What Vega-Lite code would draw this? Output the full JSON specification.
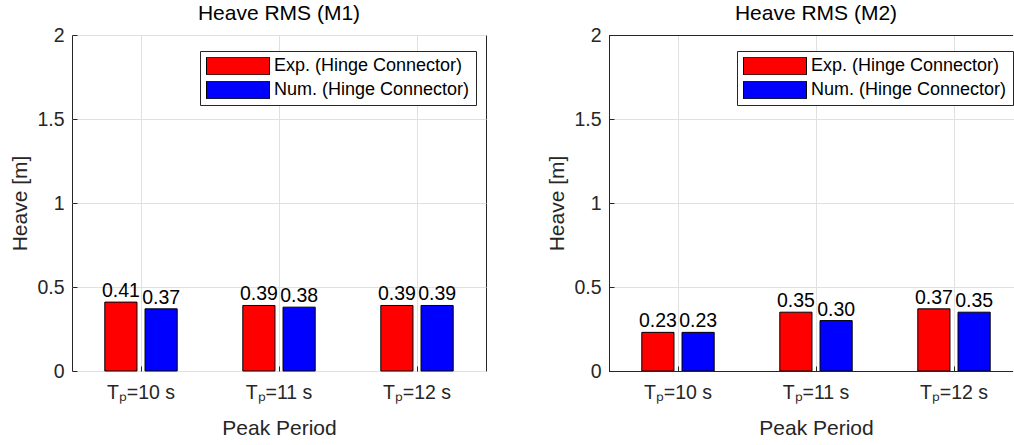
{
  "$schema": "https://vega.github.io/schema/vega-lite/v6.json",
  "background": "white",
  "padding": {"left": 9, "top": 2, "right": 1, "bottom": 5},
  "datasets": {
    "m1": [
      {"period": "Tₚ=10 s", "type": "Exp. (Hinge Connector)", "value": 0.41},
      {"period": "Tₚ=10 s", "type": "Num. (Hinge Connector)", "value": 0.37},
      {"period": "Tₚ=11 s", "type": "Exp. (Hinge Connector)", "value": 0.39},
      {"period": "Tₚ=11 s", "type": "Num. (Hinge Connector)", "value": 0.38},
      {"period": "Tₚ=12 s", "type": "Exp. (Hinge Connector)", "value": 0.39},
      {"period": "Tₚ=12 s", "type": "Num. (Hinge Connector)", "value": 0.39}
    ],
    "m2": [
      {"period": "Tₚ=10 s", "type": "Exp. (Hinge Connector)", "value": 0.23},
      {"period": "Tₚ=10 s", "type": "Num. (Hinge Connector)", "value": 0.23},
      {"period": "Tₚ=11 s", "type": "Exp. (Hinge Connector)", "value": 0.35},
      {"period": "Tₚ=11 s", "type": "Num. (Hinge Connector)", "value": 0.30},
      {"period": "Tₚ=12 s", "type": "Exp. (Hinge Connector)", "value": 0.37},
      {"period": "Tₚ=12 s", "type": "Num. (Hinge Connector)", "value": 0.35}
    ]
  },
  "config": {
    "font": "Liberation Sans",
    "view": {"stroke": "#262626", "strokeWidth": 1},
    "axis": {
      "domain": false,
      "ticks": true,
      "tickSize": -5,
      "tickColor": "#262626",
      "tickWidth": 1,
      "gridColor": "#e0e0e0",
      "gridWidth": 1,
      "labelColor": "#262626",
      "titleColor": "#262626",
      "labelFont": "Liberation Sans",
      "titleFont": "Liberation Sans",
      "labelFontSize": 19.5,
      "titleFontSize": 21,
      "titleFontWeight": "normal"
    },
    "title": {"fontSize": 21, "fontWeight": "normal", "color": "#000000", "offset": 1, "anchor": "middle", "frame": "group", "font": "Liberation Sans"},
    "legend": {
      "orient": "none",
      "legendX": 128,
      "legendY": 16,
      "symbolType": "M-1,-0.28H1V0.28H-1Z",
      "symbolSize": 3969,
      "clipHeight": 18,
      "rowPadding": 6,
      "padding": 6,
      "labelFontSize": 18,
      "labelFont": "Liberation Sans",
      "labelColor": "#000000",
      "strokeColor": "#262626",
      "fillColor": "white",
      "symbolStrokeColor": "black",
      "symbolStrokeWidth": 1,
      "symbolOpacity": 1,
      "labelOffset": 4,
      "labelLimit": 400
    },
    "concat": {"spacing": 59}
  },
  "resolve": {"legend": {"color": "independent"}},
  "hconcat": [
    {
      "width": 414,
      "height": 336,
      "title": "Heave RMS (M1)",
      "data": {"name": "m1"},
      "encoding": {
        "x": {"field": "period", "type": "nominal", "sort": null,
              "scale": {"paddingInner": 0, "paddingOuter": 0},
              "axis": {"title": "Peak Period", "labelAngle": 0, "bandPosition": 0.5, "grid": true, "labelPadding": 17, "titlePadding": 16}},
        "xOffset": {"field": "type", "type": "nominal", "sort": null,
                    "scale": {"paddingInner": 0.2, "paddingOuter": 0.816}},
        "y": {"field": "value", "type": "quantitative", "scale": {"domain": [0, 2]},
              "axis": {"title": "Heave [m]", "values": [0, 0.5, 1, 1.5, 2], "format": "~g", "labelPadding": 13, "titlePadding": 6, "grid": true}}
      },
      "layer": [
        {
          "mark": {"type": "bar", "stroke": "black", "strokeWidth": 1},
          "encoding": {
            "color": {"field": "type", "type": "nominal", "sort": null,
                      "scale": {"domain": ["Exp. (Hinge Connector)", "Num. (Hinge Connector)"], "range": ["#ff0000", "#0000ff"]},
                      "legend": {"title": null}}
          }
        },
        {
          "mark": {"type": "text", "baseline": "bottom", "dy": -1, "fontSize": 19.5, "color": "black", "font": "Liberation Sans"},
          "encoding": {"text": {"field": "value", "type": "quantitative", "format": ".2f"}}
        }
      ]
    },
    {
      "width": 404,
      "height": 336,
      "title": {"text": "Heave RMS (M2)", "dx": 5},
      "view": {"stroke": null},
      "data": {"name": "m2"},
      "encoding": {
        "y": {"field": "value", "type": "quantitative", "scale": {"domain": [0, 2]},
              "axis": {"title": "Heave [m]", "values": [0, 0.5, 1, 1.5, 2], "format": "~g", "labelPadding": 13, "titlePadding": 6, "grid": true, "domain": true, "domainColor": "#262626"}}
      },
      "layer": [
        {
          "mark": {"type": "bar", "stroke": "black", "strokeWidth": 1},
          "encoding": {
            "x": {"field": "period", "type": "nominal", "sort": null,
                  "scale": {"paddingInner": 0, "paddingOuter": 0, "range": [0, 414]},
                  "axis": {"title": "Peak Period", "labelAngle": 0, "bandPosition": 0.5, "grid": true, "labelPadding": 17, "titlePadding": 16, "titleX": 207}},
            "xOffset": {"field": "type", "type": "nominal", "sort": null,
                        "scale": {"paddingInner": 0.2, "paddingOuter": 0.816}},
            "color": {"field": "type", "type": "nominal", "sort": null,
                      "scale": {"domain": ["Exp. (Hinge Connector)", "Num. (Hinge Connector)"], "range": ["#ff0000", "#0000ff"]},
                      "legend": {"title": null}}
          }
        },
        {
          "mark": {"type": "text", "baseline": "bottom", "dy": -1, "fontSize": 19.5, "color": "black", "font": "Liberation Sans"},
          "encoding": {
            "x": {"field": "period", "type": "nominal", "sort": null},
            "xOffset": {"field": "type", "type": "nominal", "sort": null},
            "text": {"field": "value", "type": "quantitative", "format": ".2f"}
          }
        },
        {
          "mark": {"type": "rule", "color": "#262626", "strokeWidth": 1},
          "encoding": {"y": {"datum": 2}, "yOffset": {"value": 0.5}}
        },
        {
          "mark": {"type": "rule", "color": "#262626", "strokeWidth": 1},
          "encoding": {"y": {"datum": 0}, "yOffset": {"value": 0.5}}
        }
      ]
    }
  ]
}
